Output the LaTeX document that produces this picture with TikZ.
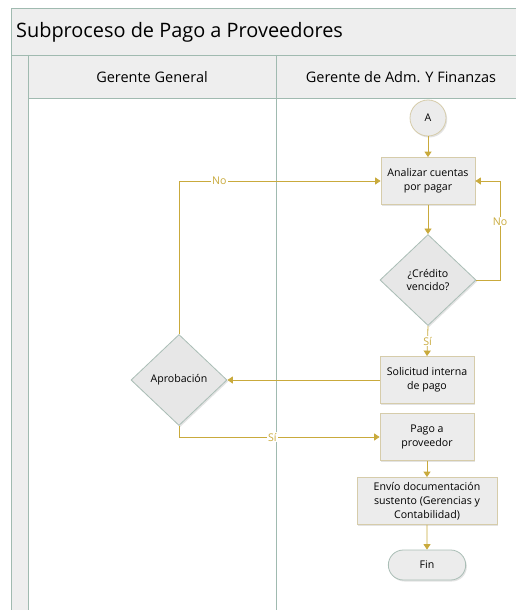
\documentclass[tikz,border=0pt]{standalone}
\usepackage{fontspec}
\setmainfont{Open Sans}
\usetikzlibrary{shapes.geometric,shapes.misc,arrows.meta,shadows}
\definecolor{flow}{RGB}{201,170,60}
\definecolor{lane}{RGB}{160,186,176}
\definecolor{band}{RGB}{238,238,238}
\definecolor{boxfill}{RGB}{236,236,236}
\definecolor{boxline}{RGB}{214,204,170}
\definecolor{decline}{RGB}{170,190,182}
\tikzset{
  shade/.style={drop shadow={opacity=0.22,shadow xshift=1.2pt,shadow yshift=-1.5pt}},
  nodefont/.style={font=\fontsize{10.6}{13.8}\selectfont},
  task/.style={rectangle,draw=boxline,line width=0.8pt,fill=boxfill,shade,nodefont,
    minimum width=94pt,minimum height=47pt,align=center,inner sep=2pt},
  decision/.style={diamond,draw=decline,line width=0.8pt,fill=boxfill!95!gray,shade,nodefont,
    minimum width=96pt,minimum height=91pt,inner sep=0pt,aspect=1,align=center},
  connector/.style={circle,draw=boxline,line width=0.8pt,fill=boxfill,shade,nodefont,minimum size=36pt,inner sep=0pt},
  terminal/.style={rounded rectangle,draw=decline,line width=0.8pt,fill=boxfill,shade,nodefont,minimum width=84pt,minimum height=30pt},
  flowline/.style={draw=flow,line width=0.8pt,-{Triangle[length=5.5pt,width=7pt]}},
  flowlabel/.style={fill=white,text=flow,inner sep=1pt,font=\fontsize{10.6}{12}\selectfont},
  laneline/.style={draw=lane,line width=0.8pt},
}
\begin{document}
\begin{tikzpicture}[x=1pt,y=-1pt]
\useasboundingbox (0,0) rectangle (516,610);
% pool frame and bands
\fill[white] (11,8) rectangle (516,610);
\fill[band] (11,8) rectangle (516,55);
\fill[band] (28,55) rectangle (516,98);
\fill[band] (11,55) rectangle (28,610);
\draw[laneline] (11,610) -- (11,8) -- (516,8);
\draw[laneline] (11,55) -- (516,55);
\draw[laneline] (28,98) -- (516,98);
\draw[laneline] (28,55) -- (28,610);
\draw[laneline] (276,55) -- (276,610);
\node[anchor=west,font=\fontsize{19.9}{22}\selectfont,inner sep=0pt] (title) at (16,32) {Subproceso de Pago a Proveedores};
\node[font=\fontsize{14.5}{16}\selectfont] (lane1) at (152,77) {Gerente General};
\node[font=\fontsize{14.5}{16}\selectfont] (lane2) at (401,77) {Gerente de Adm. Y Finanzas};
% flow nodes
\node[connector] (a) at (428,118) {A};
\node[task] (analizar) at (428,181) {Analizar cuentas\\por pagar};
\node[decision] (credito) at (428,280) {¿Crédito\\vencido?};
\node[task] (solicitud) at (427,380) {Solicitud interna\\de pago};
\node[decision] (aprob) at (179,380) {Aprobación};
\node[task] (pago) at (427,437) {Pago a\\proveedor};
\node[task,minimum width=140pt] (envio) at (427,501) {Envío documentación\\sustento (Gerencias y\\Contabilidad)};
\node[terminal] (fin) at (427,565) {Fin};
% connectors
\coordinate (noR) at (500,280);
\coordinate (noRt) at (500,181);
\coordinate (noL) at (179,181);
\coordinate (siL) at (179,437);
\draw[flowline] (a) -- (analizar);
\draw[flowline] (analizar) -- (credito);
\draw[flowline] (credito.east) -- (noR) -- node[flowlabel,pos=0.59] {No} (noRt) -- (analizar.east);
\draw[flowline] (credito.south) -- node[flowlabel,pos=0.5] {Sí} (solicitud.north);
\draw[flowline] (solicitud.west) -- (aprob.east);
\draw[flowline] (aprob.north) -- (noL) -- node[flowlabel,pos=0.2] {No} (analizar.west);
\draw[flowline] (aprob.south) -- (siL) -- node[flowlabel,pos=0.465] {Sí} (pago.west);
\draw[flowline] (pago) -- (envio);
\draw[flowline] (envio) -- (fin);
\end{tikzpicture}
\end{document}
